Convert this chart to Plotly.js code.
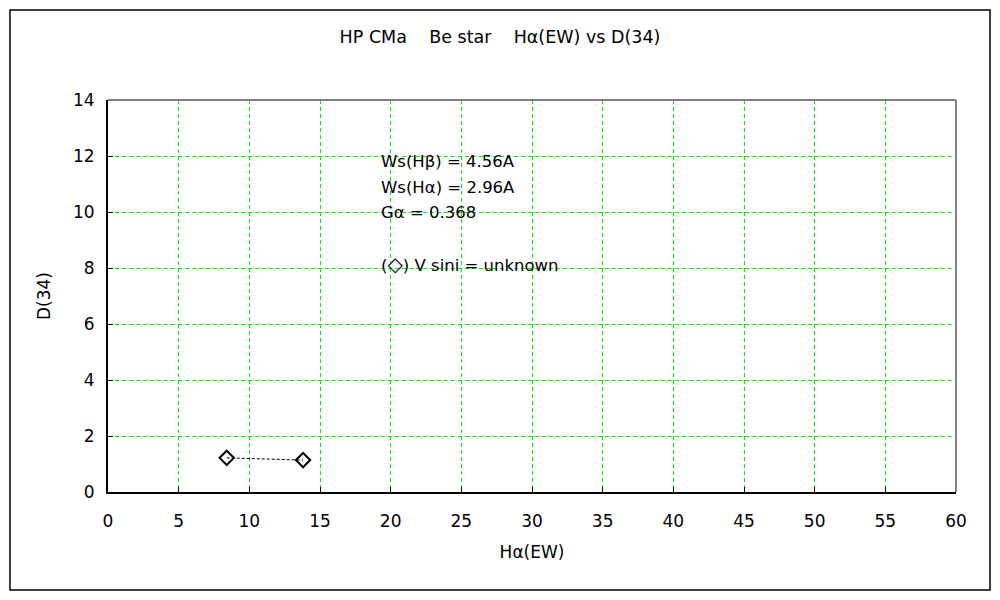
<!DOCTYPE html>
<html><head><meta charset="utf-8">
<script src="https://cdn.plot.ly/plotly-3.0.1.min.js"></script>
<style>body{margin:0;background:#fff}#c{width:1000px;height:600px}.gridlayer path{shape-rendering:crispEdges}</style>
</head><body><div id="c"></div>
<script>
const haEW = [8.4, 13.8];
const d34 = [1.22, 1.14];
const noteLines = ['Ws(H\u03b2) = 4.56A', 'Ws(H\u03b1) = 2.96A', 'G\u03b1 = 0.368', '(<span style="font-size:20px">\u25c7</span>) V sini = unknown'];
const noteX = 19.2;
const noteY = [11.82, 10.89, 10.0, 8.14];

const F = '"DejaVu Sans", "Liberation Sans", sans-serif';
const trace = {
  x: haEW, y: d34, mode: 'lines+markers', type: 'scatter',
  line: {color: '#000', width: 1, dash: '3px,2px'},
  marker: {symbol: 'diamond-open', size: 11, color: '#000', line: {width: 2, color: '#000'}},
  showlegend: false, hoverinfo: 'skip'
};
const ann = noteLines.map((t, i) => ({
  x: noteX, y: noteY[i], xref: 'x', yref: 'y', text: t, showarrow: false,
  xanchor: 'left', yanchor: 'middle', font: {family: F, size: 16.5, color: '#000'}
}));
const grid = {gridcolor: '#00ee00', griddash: '4px,3px', gridwidth: 1};
const layout = {
  width: 1000, height: 600,
  margin: {l: 108, r: 44, t: 100, b: 108},
  paper_bgcolor: '#fff', plot_bgcolor: '#fff',
  title: {text: 'HP CMa\u00a0\u00a0\u00a0\u00a0Be star\u00a0\u00a0\u00a0\u00a0H\u03b1(EW) vs D(34)', x: 0.5, xanchor: 'center', y: 0.938, yanchor: 'middle', font: {family: F, size: 17.5, color: '#000'}},
  xaxis: Object.assign({range: [0, 60], dtick: 5, tick0: 0, showline: true, linecolor: '#000', linewidth: 2,
    ticks: 'inside', ticklen: 5, tickcolor: '#000', zeroline: false, ticklabelstandoff: 13,
    tickfont: {family: F, size: 17, color: '#000'},
    title: {text: 'H\u03b1(EW)', font: {family: F, size: 17, color: '#000'}, standoff: 16}}, grid),
  yaxis: Object.assign({range: [0, 14], dtick: 2, tick0: 0, showline: true, linecolor: '#000', linewidth: 2,
    ticks: 'inside', ticklen: 5, tickcolor: '#000', zeroline: false, ticklabelstandoff: 8,
    tickfont: {family: F, size: 17, color: '#000'},
    title: {text: 'D(34)', font: {family: F, size: 17, color: '#000'}, standoff: 18}}, grid),
  annotations: ann,
  shapes: [
    {type: 'line', xref: 'paper', yref: 'paper', x0: 0, x1: 1, y0: 1, y1: 1, line: {color: '#808080', width: 2}},
    {type: 'line', xref: 'paper', yref: 'paper', x0: 1, x1: 1, y0: 0, y1: 1, line: {color: '#808080', width: 2}},
    {type: 'rect', xref: 'paper', yref: 'paper', x0: -0.1156, x1: 1.0401, y0: -0.25, y1: 1.2296, line: {color: '#000', width: 1.5}}
  ]
};
Plotly.newPlot('c', [trace], layout, {displayModeBar: false, staticPlot: true});
</script></body></html>
